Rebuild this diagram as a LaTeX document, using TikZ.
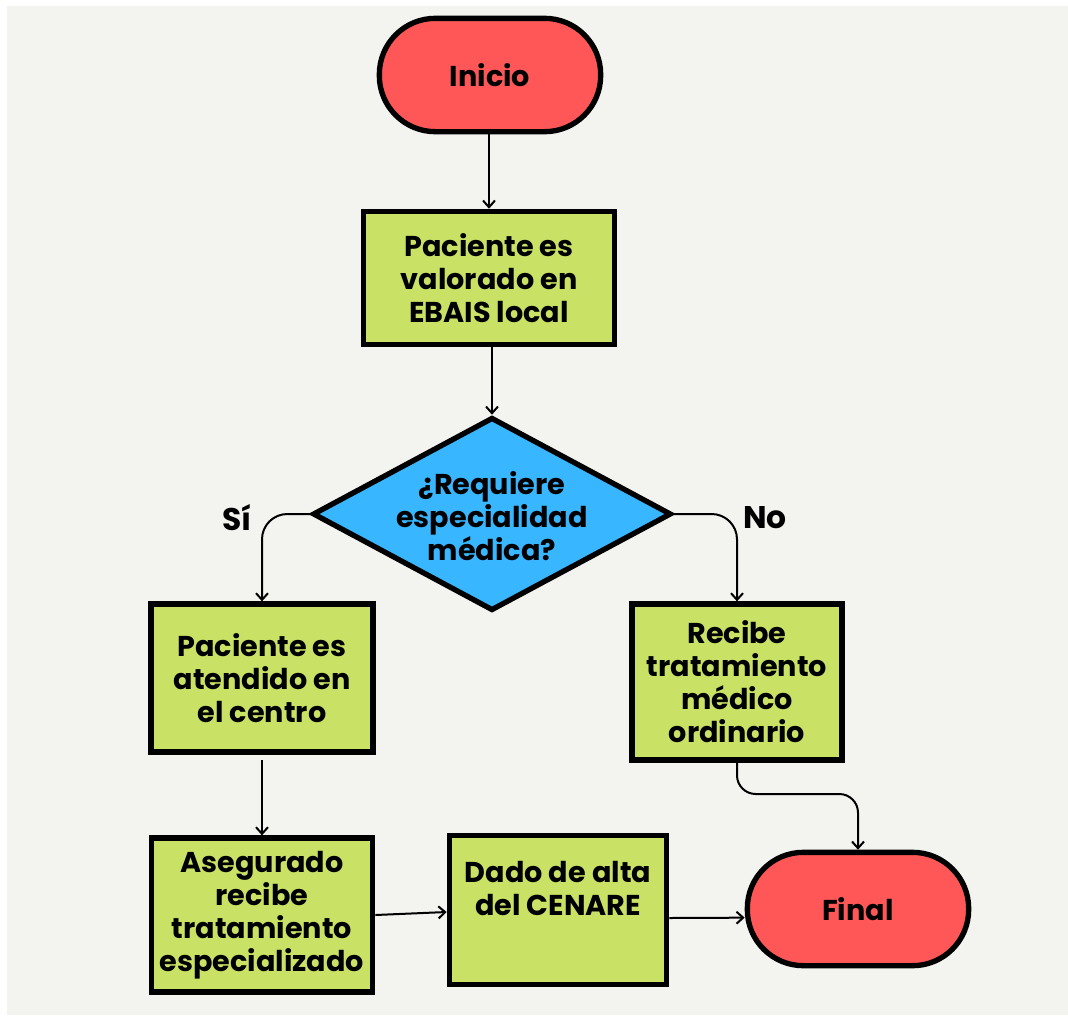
\documentclass[tikz,border=0pt]{standalone}
\usepackage{fontspec}
\setmainfont{Poppins}
\usetikzlibrary{shapes.geometric,arrows.meta}
\definecolor{bgc}{HTML}{F3F4EF}
\definecolor{termred}{HTML}{FF5757}
\definecolor{procgreen}{HTML}{C9E265}
\definecolor{decblue}{HTML}{38B6FF}
\begin{document}
\begin{tikzpicture}[x=0.75pt,y=-0.75pt,
  every node/.style={font=\fontsize{21.5pt}{24.75pt}\selectfont\bfseries, align=center, text=black},
  terminal/.style={draw, line width=4pt, fill=termred, rectangle, rounded corners=42pt,
    minimum width=166pt, minimum height=85pt},
  procbox/.style={draw, line width=4pt, fill=procgreen, rectangle, inner sep=0pt},
  decision/.style={draw, line width=4pt, fill=decblue, diamond, inner sep=0pt,
    minimum width=269pt, minimum height=145pt},
  branch/.style={font=\fontsize{23.5pt}{26pt}\selectfont\bfseries},
  flow/.style={line width=1.5pt, -{Straight Barb[length=5pt,width=9pt]}}
]
% canvas
\fill[white] (0,0) rectangle (1068,1015);
\fill[bgc] (7,6) rectangle (1068,1015);
\useasboundingbox (0,0) rectangle (1068,1015);

% shapes
\node[terminal] (start) at (490,75) {Inicio};
\node[procbox, minimum width=188pt, minimum height=100pt] (b1) at (489,278)
  {Paciente es\\valorado en\\EBAIS local};
\node[decision] (q) at (492,514) {};
\node (qtext) at (492,516) {¿Requiere\\especialidad\\médica?};
\node[procbox, minimum width=166.5pt, minimum height=111pt] (b2) at (262,678)
  {Paciente es\\atendido en\\el centro};
\node[procbox, minimum width=157.5pt, minimum height=117pt] (b3) at (737,682)
  {Recibe\\tratamiento\\médico\\ordinario};
\node[procbox, minimum width=166pt, minimum height=115.5pt] (b4) at (262,915)
  {Asegurado\\recibe\\tratamiento\\especializado};
\node[procbox, minimum width=163pt, minimum height=112pt] (b5) at (558,910)
  {Dado de alta\\del CENARE\\\strut};
\node[terminal] (fin) at (858,909) {Final};

% branch labels
\node[branch] (si) at (237,518) {Sí};
\node[branch] (no) at (765,518) {No};

% connectors
\coordinate (jog) at (800,794);
\draw[flow] (start.south -| b1.north) -- (b1.north);
\draw[flow] (b1.south -| q.north) -- (q.north);
\draw[flow, rounded corners=19pt] (q.west) -| (b2.north);
\draw[flow, rounded corners=19pt] (q.east) -| (b3.north);
\draw[flow, shorten <=4pt] (b2.south) -- (b4.north);
\draw[flow] (b4.east) -- ([yshift=-1.5pt]b5.west);
\draw[flow] ([yshift=-6pt]b5.east) -- ([yshift=-6.5pt]fin.west);
\draw[flow, rounded corners=14pt] (b3.south) |- (jog) -| (fin.north);
\end{tikzpicture}
\end{document}
